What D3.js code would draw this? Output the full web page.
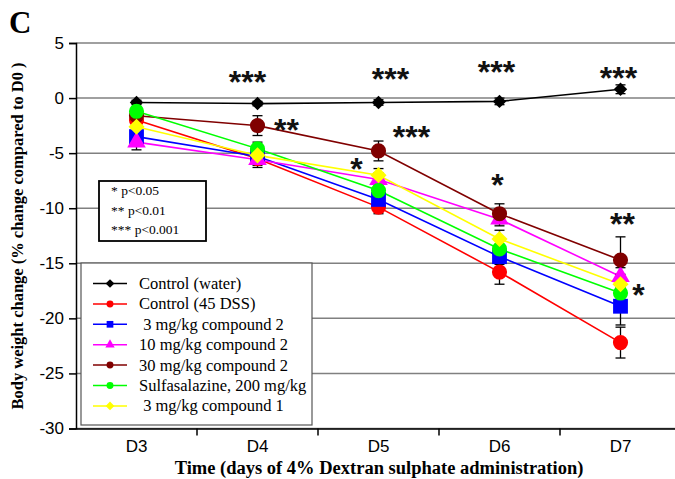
<!DOCTYPE html>
<html><head><meta charset="utf-8">
<script src="https://cdn.jsdelivr.net/npm/d3@7"></script>
<style>body{margin:0;background:#fff}svg{display:block}</style>
</head><body>
<svg id="c" width="675" height="479"></svg>
<script>
const days = ["D3","D4","D5","D6","D7"];
const yTicks = [5,0,-5,-10,-15,-20,-25,-30];
const seriesNames = ["Control (water)","Control (45 DSS)"," 3 mg/kg compound 2","10 mg/kg compound 2","30 mg/kg compound 2","Sulfasalazine, 200 mg/kg"," 3 mg/kg compound 1"];
const seriesColors = ["#000000","#ff0000","#0000ff","#ff00ff","#800000","#00ff00","#ffff00"];
const seriesShapes = ["diamond","circle","square","triangle","circle","circle","diamond"];
const controlWater = [-0.4,-0.5,-0.4,-0.3,0.8];
const controlDSS = [-2.0,-5.5,-9.9,-15.8,-22.2];
const c2_3 = [-3.5,-5.3,-9.2,-14.4,-18.9];
const c2_10 = [-4.0,-5.6,-7.4,-11.0,-16.2];
const c2_30 = [-1.6,-2.5,-4.8,-10.5,-14.7];
const sulfa = [-1.2,-4.6,-8.4,-13.7,-17.7];
const c1_3 = [-2.6,-5.2,-7.0,-12.8,-16.9];
const errWater = [0.2,0.2,0.25,0.3,0.4];
const errDSS = [0.5,0.6,0.6,1.1,1.4];
const err2_3 = [0.5,0.6,0.6,0.7,1.7];
const err2_10 = [0.7,0.7,0.6,0.6,0.8];
const err2_30 = [0.4,0.9,0.9,0.9,2.1];
const errSulfa = [0.4,0.6,0.6,0.8,0.9];
const err1_3 = [0.5,0.6,0.6,0.8,0.9];
const sigDay = ["D4","D4","D5","D5","D5","D6","D6","D7","D7","D7"];
const sigText = ["***","**","***","***","*","***","*","***","**","*"];
const sigValue = [2.1,-2.3,2.4,-2.9,-5.8,3.0,-7.3,2.5,-10.8,-17.2];
const sigDx = [-10,29,12,33,-22,-3,-2,-2,2,18];
const pLegend = ["* p<0.05","** p<0.01","*** p<0.001"];

const allValues = [controlWater,controlDSS,c2_3,c2_10,c2_30,sulfa,c1_3];
const allErr = [errWater,errDSS,err2_3,err2_10,err2_30,errSulfa,err1_3];
const markerSize = [90,180,220,150,180,180,130];
const series = seriesNames.map((n,i)=>({name:n,color:seriesColors[i],shape:seriesShapes[i],values:allValues[i],err:allErr[i],size:markerSize[i]}));

const svg = d3.select("#c");
const L=76, R=681, T=43, B=428.5;
const x = d3.scaleBand().domain(days).range([L,R]).padding(0);
const cx = d => x(d)+x.bandwidth()/2;
const y = d3.scaleLinear().domain([-30,5]).range([B,T]);

// gridlines
svg.append("g").selectAll("line").data(yTicks).join("line")
  .attr("x1",L).attr("x2",R).attr("y1",d=>y(d)).attr("y2",d=>y(d))
  .attr("stroke","#808080").attr("stroke-width",1.5);

// y axis
const ya = svg.append("g").attr("transform",`translate(${L},0)`)
  .call(d3.axisLeft(y).tickValues(yTicks).tickSize(7).tickFormat(d3.format("d")));
ya.select(".domain").attr("stroke","#000").attr("stroke-width",1.5);
ya.selectAll(".tick line").attr("stroke","#000").attr("stroke-width",1.5);
ya.selectAll("text").attr("font-family","Liberation Sans, Arial, sans-serif").attr("font-size",17).attr("fill","#000").attr("x",-12)
  .text(d=>d<0?"-"+Math.abs(d):d);

// x axis
const xa = svg.append("g").attr("transform",`translate(0,${B})`)
  .call(d3.axisBottom(x).tickSize(0).tickPadding(11));
xa.select(".domain").attr("stroke","#000").attr("stroke-width",1.5);
xa.selectAll("text").attr("font-family","Liberation Sans, Arial, sans-serif").attr("font-size",17).attr("fill","#000");
const bounds = days.map(d=>x(d)).slice(1).concat([R]);
svg.append("g").selectAll("line").data(bounds).join("line")
  .attr("x1",d=>d).attr("x2",d=>d).attr("y1",B).attr("y2",B+7)
  .attr("stroke","#000").attr("stroke-width",1.5);

// axis titles
svg.append("text").attr("transform","translate(23,236) rotate(-90)").attr("text-anchor","middle")
  .attr("font-family","Liberation Serif, Times New Roman, serif").attr("font-weight","bold").attr("font-size",16.5)
  .text("Body weight change (% change compared to D0 )");
svg.append("text").attr("x",379).attr("y",474).attr("text-anchor","middle")
  .attr("font-family","Liberation Serif, Times New Roman, serif").attr("font-weight","bold").attr("font-size",18.5)
  .text("Time (days of 4% Dextran sulphate administration)");
svg.append("text").attr("x",9).attr("y",33)
  .attr("font-family","Liberation Serif, Times New Roman, serif").attr("font-weight","bold").attr("font-size",31)
  .text("C");

// lines
const line = d3.line().x((v,i)=>cx(days[i])).y(v=>y(v));
svg.append("g").selectAll("path").data(series).join("path")
  .attr("d",s=>line(s.values)).attr("fill","none").attr("stroke",s=>s.color).attr("stroke-width",1.6);

// error bars
const eg = svg.append("g").attr("stroke","#000").attr("stroke-width",1.3);
series.forEach(s=>{
  s.values.forEach((v,i)=>{
    const X=cx(days[i]), e=s.err[i];
    eg.append("line").attr("x1",X).attr("x2",X).attr("y1",y(v+e)).attr("y2",y(v-e));
    [v+e,v-e].forEach(w=>eg.append("line").attr("x1",X-5).attr("x2",X+5).attr("y1",y(w)).attr("y2",y(w)));
  });
});

// markers
const squareDiamond = {draw(ctx,size){const r=Math.sqrt(size/2);ctx.moveTo(0,-r);ctx.lineTo(r,0);ctx.lineTo(0,r);ctx.lineTo(-r,0);ctx.closePath();}};
function sym(shape,size){
  const t = {diamond:squareDiamond,circle:d3.symbolCircle,square:d3.symbolSquare,triangle:d3.symbolTriangle}[shape];
  return d3.symbol().type(t).size(size)();
}
series.forEach(s=>{
  svg.append("g").selectAll("path").data(s.values).join("path")
    .attr("transform",(v,i)=>`translate(${cx(days[i])},${y(v)})`)
    .attr("d",sym(s.shape,s.size)).attr("fill",s.color);
});

// significance marks
svg.append("g").selectAll("text").data(sigText).join("text")
  .attr("x",(t,i)=>cx(sigDay[i])+sigDx[i]).attr("y",(t,i)=>y(sigValue[i])+18)
  .attr("text-anchor","middle").attr("font-family","Liberation Sans, Arial, sans-serif")
  .attr("font-weight","bold").attr("font-size",32).attr("fill","#111").text(t=>t);

// p-value box
const pb = svg.append("g");
pb.append("rect").attr("x",99).attr("y",181).attr("width",107).attr("height",60).attr("fill","#fff").attr("stroke","#000").attr("stroke-width",1.8);
pb.selectAll("text").data(pLegend).join("text").attr("x",111).attr("y",(d,i)=>195+i*19.5)
  .attr("font-family","Liberation Serif, Times New Roman, serif").attr("font-size",13.5).text(d=>d);

// legend
const lg = svg.append("g");
lg.append("rect").attr("x",81).attr("y",263).attr("width",231).attr("height",162).attr("fill","#fff").attr("stroke","#555").attr("stroke-width",1.2);
series.forEach((s,i)=>{
  const yy = 283.5+i*20.4;
  lg.append("line").attr("x1",93).attr("x2",127).attr("y1",yy).attr("y2",yy).attr("stroke",s.color).attr("stroke-width",1.5);
  lg.append("path").attr("transform",`translate(110,${yy})`).attr("d",sym(s.shape,s.shape==="square"?45:38)).attr("fill",s.color);
  lg.append("text").attr("x",139).attr("y",yy+5.5).attr("font-family","Liberation Serif, Times New Roman, serif").attr("font-size",16.5).style("white-space","pre").text(s.name);
});
</script>
</body></html>
